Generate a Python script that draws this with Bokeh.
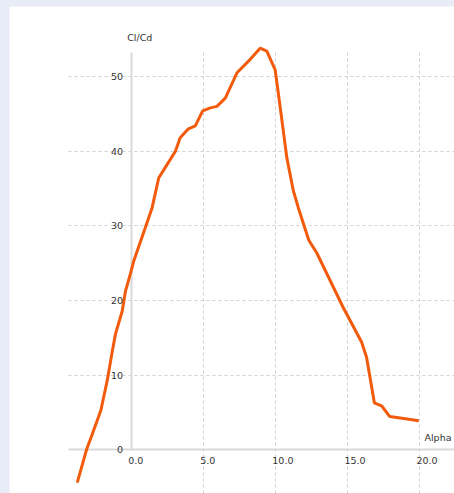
from bokeh.plotting import figure
from bokeh.layouts import column, row
from bokeh.models import ColumnDataSource, Grid, FixedTicker, Spacer
from bokeh.core.properties import value
from bokeh.embed import file_html
from bokeh.resources import INLINE

# ---- data ----
alpha = [-3.74, -3.1, -2.7, -2.1, -1.66, -1.3, -1.09, -0.62, -0.39, -0.05, 0.18,
         0.99, 1.45, 1.91, 2.49, 3.07, 3.4, 3.97, 4.45, 4.96, 5.49, 5.95, 6.53,
         7.34, 8.26, 8.95, 9.41, 9.99, 10.33, 10.8, 11.25, 11.6, 12.3, 12.41,
         12.87, 14.7, 15.99, 16.33, 16.87, 17.37, 17.94, 18.9, 19.95]
cl_cd = [-4.4, 0.0, 2.1, 5.3, 9.3, 13.3, 15.5, 18.6, 21.3, 23.6, 25.3,
         29.8, 32.4, 36.4, 38.2, 40.0, 41.8, 43.0, 43.4, 45.4, 45.8, 46.0, 47.1,
         50.5, 52.3, 53.8, 53.4, 50.9, 46.0, 39.1, 34.7, 32.4, 28.2, 27.8,
         26.4, 19.1, 14.4, 12.4, 6.3, 5.9, 4.45, 4.2, 3.9]

x_ticks = [0, 5, 10, 15, 20]
x_tick_labels = ["0.0", "5.0", "10.0", "15.0", "20.0"]
y_ticks = [0, 10, 20, 30, 40, 50]
y_tick_labels = ["0", "10", "20", "30", "40", "50"]
x_title = "Alpha"
y_title = "Cl/Cd"

# visible window (white panel) and gridded plotting area (data units)
x_view = (-8.44, 22.43)
y_view = (-5.85, 59.38)
x_area = (-4.33, 22.43)
y_area = (-5.85, 53.25)
origin = 0

BG = "#e8ecf6"
LINE = "#f25a0c"
GRID = "#d0d0d0"
AXIS = "#d9d9d9"
TXT = "#333333"
FONT = value("DejaVu Sans")
FS = "9.5px"

p = figure(width=445, height=487, x_range=x_view, y_range=y_view,
           x_axis_location=None, y_axis_location=None,
           toolbar_location=None, output_backend="svg",
           min_border=0, min_border_left=0, min_border_top=0,
           min_border_right=0, min_border_bottom=0,
           border_fill_color="white", background_fill_color="white",
           outline_line_color=None)
p.title.visible = False
p.xgrid.visible = False
p.ygrid.visible = False

# dashed grid, restricted to the plotting area
p.add_layout(Grid(dimension=0, ticker=FixedTicker(ticks=[t for t in x_ticks if t != origin]),
                  cross_bounds=y_area, grid_line_color=GRID, grid_line_dash="3 3",
                  grid_line_width=1))
p.add_layout(Grid(dimension=1, ticker=FixedTicker(ticks=[t for t in y_ticks if t != origin]),
                  cross_bounds=x_area, grid_line_color=GRID, grid_line_dash="3 3",
                  grid_line_width=1))
# axis lines through the origin
p.add_layout(Grid(dimension=1, ticker=FixedTicker(ticks=[origin]), cross_bounds=x_area,
                  grid_line_color=AXIS, grid_line_width=2))
p.add_layout(Grid(dimension=0, ticker=FixedTicker(ticks=[origin]),
                  cross_bounds=(origin, y_area[1]), grid_line_color=AXIS, grid_line_width=2))

p.line(alpha, cl_cd, line_color=LINE, line_width=3)

xl = ColumnDataSource(dict(x=x_ticks, y=[origin] * len(x_ticks), text=x_tick_labels))
p.text(x="x", y="y", text="text", source=xl, text_font=FONT, text_font_size=FS,
       text_color=TXT, text_align="left", text_baseline="top", x_offset=-3, y_offset=7)

yl = ColumnDataSource(dict(x=[origin] * len(y_ticks), y=y_ticks, text=y_tick_labels))
p.text(x="x", y="y", text="text", source=yl, text_font=FONT, text_font_size=FS,
       text_color=TXT, text_align="right", text_baseline="middle", x_offset=-8)

p.text(x=[origin], y=[y_area[1]], text=[y_title], text_font=FONT, text_font_size=FS,
       text_color=TXT, text_align="left", text_baseline="middle",
       x_offset=-4, y_offset=-15)
p.text(x=[x_ticks[-1]], y=[origin], text=[x_title], text_font=FONT, text_font_size=FS,
       text_color=TXT, text_align="left", text_baseline="middle",
       x_offset=5, y_offset=-12)

bg = {"background-color": BG}
page = column(
    Spacer(width=454, height=6, styles=bg),
    row(Spacer(width=9, height=487, styles=bg), p, spacing=0),
    spacing=0, styles=bg,
)

open("out.html", "w").write(file_html(page, INLINE))
